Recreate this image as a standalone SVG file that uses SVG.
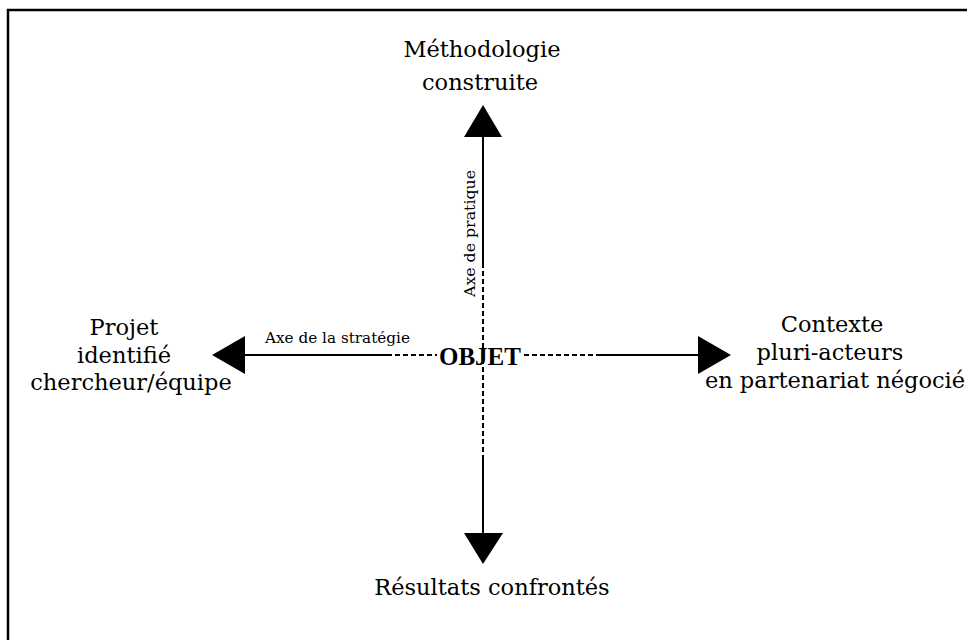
<svg xmlns="http://www.w3.org/2000/svg" width="967" height="640" viewBox="0 0 967 640">
<style>
.lbl{font-family:"DejaVu Serif","Liberation Serif",serif;font-size:22.5px;fill:#000;text-anchor:middle}
.sm{font-family:"DejaVu Serif","Liberation Serif",serif;font-size:15px;fill:#000}
.obj{font-family:"Liberation Serif",serif;font-size:25px;font-weight:bold;fill:#000;text-anchor:middle}
.solid{stroke:#000;stroke-width:2;fill:none}
.dash{stroke:#000;stroke-width:2;fill:none;stroke-dasharray:5 3}
.head{fill:#000}
</style>
<rect width="967" height="640" fill="#fff"/>
<rect x="8" y="10" width="980" height="660" fill="none" stroke="#000" stroke-width="2.5"/>
<g id="connectors">
  <line class="solid" x1="483" y1="136" x2="483" y2="263"/>
  <line class="dash" x1="483" y1="263" x2="483" y2="455"/>
  <line class="solid" x1="483" y1="455" x2="483" y2="534"/>
  <polygon class="head" points="483,105 464,137 502,137"/>
  <polygon class="head" points="483,564 464,533 503,533"/>
  <line class="solid" x1="244" y1="355" x2="387" y2="355"/>
  <line class="dash" x1="387" y1="355" x2="437" y2="355"/>
  <line class="dash" x1="524" y1="355" x2="600" y2="355"/>
  <line class="solid" x1="600" y1="355" x2="699" y2="355"/>
  <polygon class="head" points="212,355 245,336 245,374"/>
  <polygon class="head" points="731,355 698,336 698,374"/>
  <text class="sm" x="265" y="343" textLength="145" lengthAdjust="spacingAndGlyphs">Axe de la stratégie</text>
  <text class="sm" transform="translate(475,297) rotate(-90)" textLength="127" lengthAdjust="spacingAndGlyphs">Axe de pratique</text>
</g>
<g id="objet">
  <text class="obj" x="480" y="365">OBJET</text>
</g>
<g id="methodologie">
  <text class="lbl" x="482" y="57">Méthodologie</text>
  <text class="lbl" x="480" y="90">construite</text>
</g>
<g id="resultats">
  <text class="lbl" x="492" y="595">Résultats confrontés</text>
</g>
<g id="projet">
  <text class="lbl" x="124" y="335">Projet</text>
  <text class="lbl" x="124" y="363">identifié</text>
  <text class="lbl" x="131" y="390">chercheur/équipe</text>
</g>
<g id="contexte">
  <text class="lbl" x="832" y="332">Contexte</text>
  <text class="lbl" x="830" y="360">pluri-acteurs</text>
  <text class="lbl" x="835" y="388">en partenariat négocié</text>
</g>
</svg>
